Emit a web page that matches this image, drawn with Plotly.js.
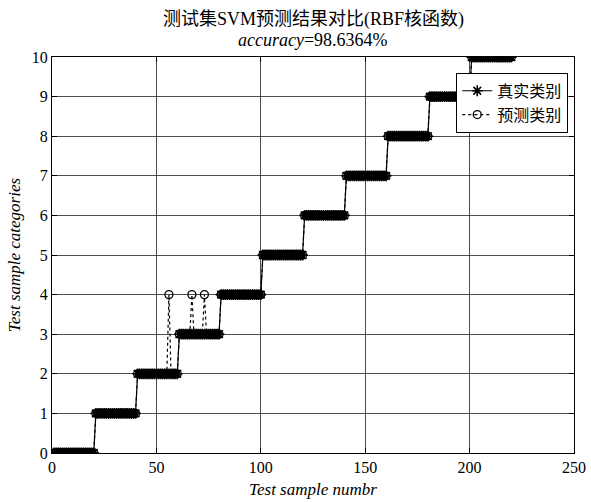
<!DOCTYPE html>
<html>
<head>
<meta charset="utf-8">
<script src="https://cdn.plot.ly/plotly-3.0.1.min.js"></script>
<style>
  html, body { margin: 0; padding: 0; background: #fff; }
  #chart { width: 591px; height: 502px; }
</style>
</head>
<body>
<div id="chart"></div>
<script>
// True class of each of the 220 test samples (20 samples per class).
const trueLabels = [
  0,0,0,0,0,0,0,0,0,0,0,0,0,0,0,0,0,0,0,0,
  1,1,1,1,1,1,1,1,1,1,1,1,1,1,1,1,1,1,1,1,
  2,2,2,2,2,2,2,2,2,2,2,2,2,2,2,2,2,2,2,2,
  3,3,3,3,3,3,3,3,3,3,3,3,3,3,3,3,3,3,3,3,
  4,4,4,4,4,4,4,4,4,4,4,4,4,4,4,4,4,4,4,4,
  5,5,5,5,5,5,5,5,5,5,5,5,5,5,5,5,5,5,5,5,
  6,6,6,6,6,6,6,6,6,6,6,6,6,6,6,6,6,6,6,6,
  7,7,7,7,7,7,7,7,7,7,7,7,7,7,7,7,7,7,7,7,
  8,8,8,8,8,8,8,8,8,8,8,8,8,8,8,8,8,8,8,8,
  9,9,9,9,9,9,9,9,9,9,9,9,9,9,9,9,9,9,9,9,
  10,10,10,10,10,10,10,10,10,10,10,10,10,10,10,10,10,10,10,10
];

// Samples the SVM got wrong (1-based sample number) and the class it predicted.
const wrongSamples = [56, 67, 73];
const wrongPredicted = [4, 4, 4];

const accuracyText = '98.6364%';
const xTicks = [0, 50, 100, 150, 200, 250];
const yTicks = [0, 1, 2, 3, 4, 5, 6, 7, 8, 9, 10];

const sampleNo = trueLabels.map((_, i) => i + 1);
const predLabels = trueLabels.slice();
wrongSamples.forEach((s, k) => { predLabels[s - 1] = wrongPredicted[k]; });

const FONT = '"Liberation Serif", "Times New Roman", "Noto Sans CJK SC", serif';

const traces = [
  {
    x: sampleNo, y: trueLabels, name: '真实类别',
    mode: 'lines+markers', type: 'scatter',
    line: { color: '#000', width: 1.2 },
    marker: { symbol: 'asterisk-open', size: 9, color: '#000', line: { color: '#000', width: 1.6 } }
  },
  {
    x: sampleNo, y: predLabels, name: '预测类别',
    mode: 'lines+markers', type: 'scatter',
    line: { color: '#000', width: 1.2, dash: 'dot' },
    marker: { symbol: 'circle-open', size: 8, color: '#000', line: { color: '#000', width: 1.3 } }
  }
];

const axisCommon = {
  showgrid: true, gridcolor: '#222', gridwidth: 0.8,
  zeroline: false, showline: true, linecolor: '#000', linewidth: 1,
  mirror: 'ticks', ticks: 'inside', ticklen: 5, tickcolor: '#000',
  tickfont: { family: FONT, size: 16, color: '#000' }
};

const layout = {
  width: 591, height: 502,
  margin: { l: 52, r: 17, t: 57, b: 49 },
  paper_bgcolor: '#fff', plot_bgcolor: '#fff',
  font: { family: FONT, color: '#000' },
  // Two-line heading above the axes
  annotations: [
    {
      text: '测试集SVM预测结果对比(RBF核函数)',
      xref: 'paper', yref: 'paper', x: 0.5, y: 1, xanchor: 'center', yanchor: 'middle',
      yshift: 38, showarrow: false,
      font: { family: FONT, size: 18, color: '#000' }
    },
    {
      text: '<i>accuracy</i>=' + accuracyText,
      xref: 'paper', yref: 'paper', x: 0.5, y: 1, xanchor: 'center', yanchor: 'middle',
      yshift: 17, showarrow: false,
      font: { family: FONT, size: 18, color: '#000' }
    }
  ],
  xaxis: Object.assign({}, axisCommon, {
    range: [0, 250], tickvals: xTicks, ticktext: xTicks.map(String),
    title: { text: '<i>Test sample numbr</i>', font: { family: FONT, size: 17, color: '#000' }, standoff: 7 }
  }),
  yaxis: Object.assign({}, axisCommon, {
    range: [0, 10], tickvals: yTicks, ticktext: yTicks.map(String),
    title: { text: '<i>Test sample categories</i>', font: { family: FONT, size: 17, color: '#000' }, standoff: 6 }
  }),
  legend: {
    x: 0.989, xanchor: 'right', y: 0.96, yanchor: 'top',
    bgcolor: '#fff', bordercolor: '#000', borderwidth: 1,
    font: { family: FONT, size: 16, color: '#000' },
    tracegroupgap: 0, itemwidth: 30
  },
  showlegend: true
};

Plotly.newPlot('chart', traces, layout, { displayModeBar: false, staticPlot: true });
</script>
</body>
</html>
